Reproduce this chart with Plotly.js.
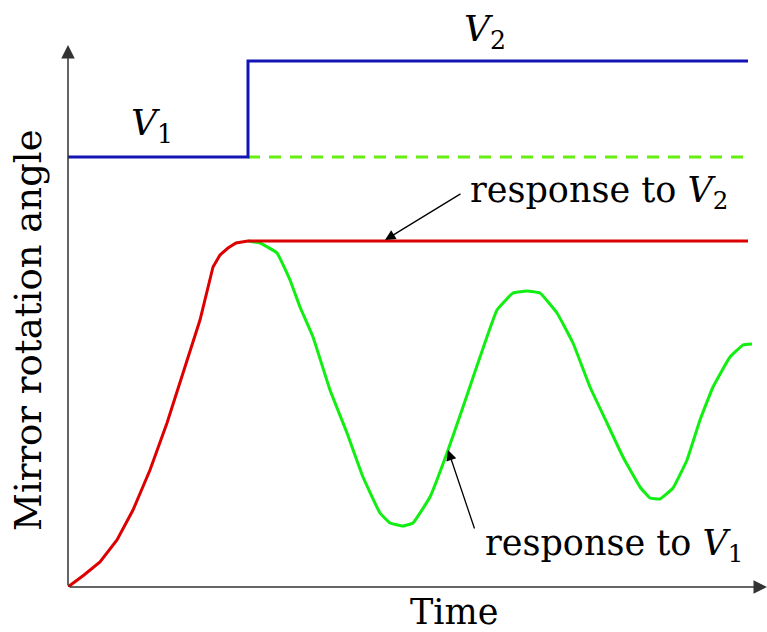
<!DOCTYPE html>
<html>
<head>
<meta charset="utf-8">
<script src="https://cdn.plot.ly/plotly-3.0.1.min.js"></script>
<style>html,body{margin:0;padding:0;background:#fff;}#chart{width:767px;height:632px;}</style>
</head>
<body>
<div id="chart"></div>
<script>
// Input voltage (step from V1 to V2)
const inputX = [0, 180, 180, 680];
const inputY = [430, 430, 526, 526];
// V1 level continued (dashed)
const v1LevelX = [180, 680];
const v1LevelY = [430, 430];
// Response to V2
const respV2X = [0, 16, 32, 49, 65, 82, 99, 115, 132, 145, 152, 160, 168, 180, 680];
const respV2Y = [0, 12, 25, 47, 77, 117, 164, 214, 267, 320, 332, 339, 344, 346, 346];
// Response to V1 (oscillation after switching)
const respV1X = [180, 192, 209, 222, 232, 245, 262, 279, 295, 312, 322, 335, 345, 362, 379, 395, 412, 429, 445, 459, 472, 489, 505, 522, 539, 555, 572, 582, 592, 605, 619, 632, 645, 662, 675, 684];
const respV1Y = [346, 344, 334, 307, 280, 250, 197, 154, 110, 74, 64, 61, 64, 90, 134, 180, 230, 277, 294, 296, 294, 274, 244, 200, 164, 130, 100, 89, 88, 99, 127, 167, 200, 230, 242, 243];

const FONT = 'DejaVu Serif';
const BLUE = '#1414b4';
const RED = '#dd0000';
const GREEN = '#11ee11';
const DGREEN = '#66ee11';

const traces = [
  {x: respV1X, y: respV1Y, mode: 'lines', line: {color: GREEN, width: 3, shape: 'spline', smoothing: 0.3}, hoverinfo: 'skip'},
  {x: v1LevelX, y: v1LevelY, mode: 'lines', line: {color: DGREEN, width: 3, dash: '12px,9px'}, hoverinfo: 'skip'},
  {x: respV2X, y: respV2Y, mode: 'lines', line: {color: RED, width: 3}, hoverinfo: 'skip'},
  {x: inputX, y: inputY, mode: 'lines', line: {color: BLUE, width: 3}, hoverinfo: 'skip'}
];

const txt = (s, x, y, xa, ya, size) => ({
  text: s, x: x, y: y, xref: 'x', yref: 'y', xanchor: xa, yanchor: ya,
  showarrow: false, font: {family: FONT, size: size || 35, color: '#000'}
});
const arrow = (x, y, ax, ay, color, w, head, sz) => ({
  text: '', x: x, y: y, ax: ax, ay: ay, xref: 'x', yref: 'y', axref: 'x', ayref: 'y',
  showarrow: true, arrowhead: head, arrowsize: sz, arrowwidth: w, arrowcolor: color, standoff: 0
});

const layout = {
  width: 767, height: 632,
  margin: {l: 68, r: 0, t: 45, b: 45},
  paper_bgcolor: '#fff', plot_bgcolor: '#fff',
  showlegend: false,
  xaxis: {range: [0, 699], showgrid: false, zeroline: false, showticklabels: false, showline: false, ticks: '', fixedrange: true},
  yaxis: {range: [0, 542], showgrid: false, zeroline: false, showticklabels: false, showline: false, ticks: '', fixedrange: true},
  annotations: [
    arrow(699, 0, 0, 0, '#333', 1.5, 2, 1.8),
    arrow(0, 542, 0, 0, '#333', 1.5, 2, 1.8),
    arrow(317, 347, 394, 394, '#000', 1.3, 2, 1.6),
    arrow(380, 137, 407, 57, '#000', 1.3, 2, 1.6),
    txt('<i>V</i><sub>1</sub>', 84, 462, 'center', 'middle', 36),
    {text: '<i>V</i><sub>2</sub>', xref: 'paper', yref: 'paper', x: (485 - 68) / 699, y: (587 - 32) / 542, xanchor: 'center', yanchor: 'middle', showarrow: false, font: {family: FONT, size: 36, color: '#000'}},
    txt('response to <i>V</i><sub>2</sub>', 400, 395, 'left', 'middle', 35),
    txt('response to <i>V</i><sub>1</sub>', 415, 42, 'left', 'middle', 35),
    {text: 'Time', xref: 'paper', yref: 'paper', x: (454 - 68) / 699, y: -(612 - 587) / 542, xanchor: 'center', yanchor: 'middle', showarrow: false, font: {family: FONT, size: 35, color: '#000'}},
    {text: 'Mirror rotation angle', xref: 'paper', yref: 'paper', x: (28 - 68) / 699, y: (587 - 330) / 542, xanchor: 'center', yanchor: 'middle', textangle: -90, showarrow: false, font: {family: FONT, size: 37, color: '#000'}}
  ]
};

Plotly.newPlot('chart', traces, layout, {displayModeBar: false, staticPlot: true});
</script>
</body>
</html>
